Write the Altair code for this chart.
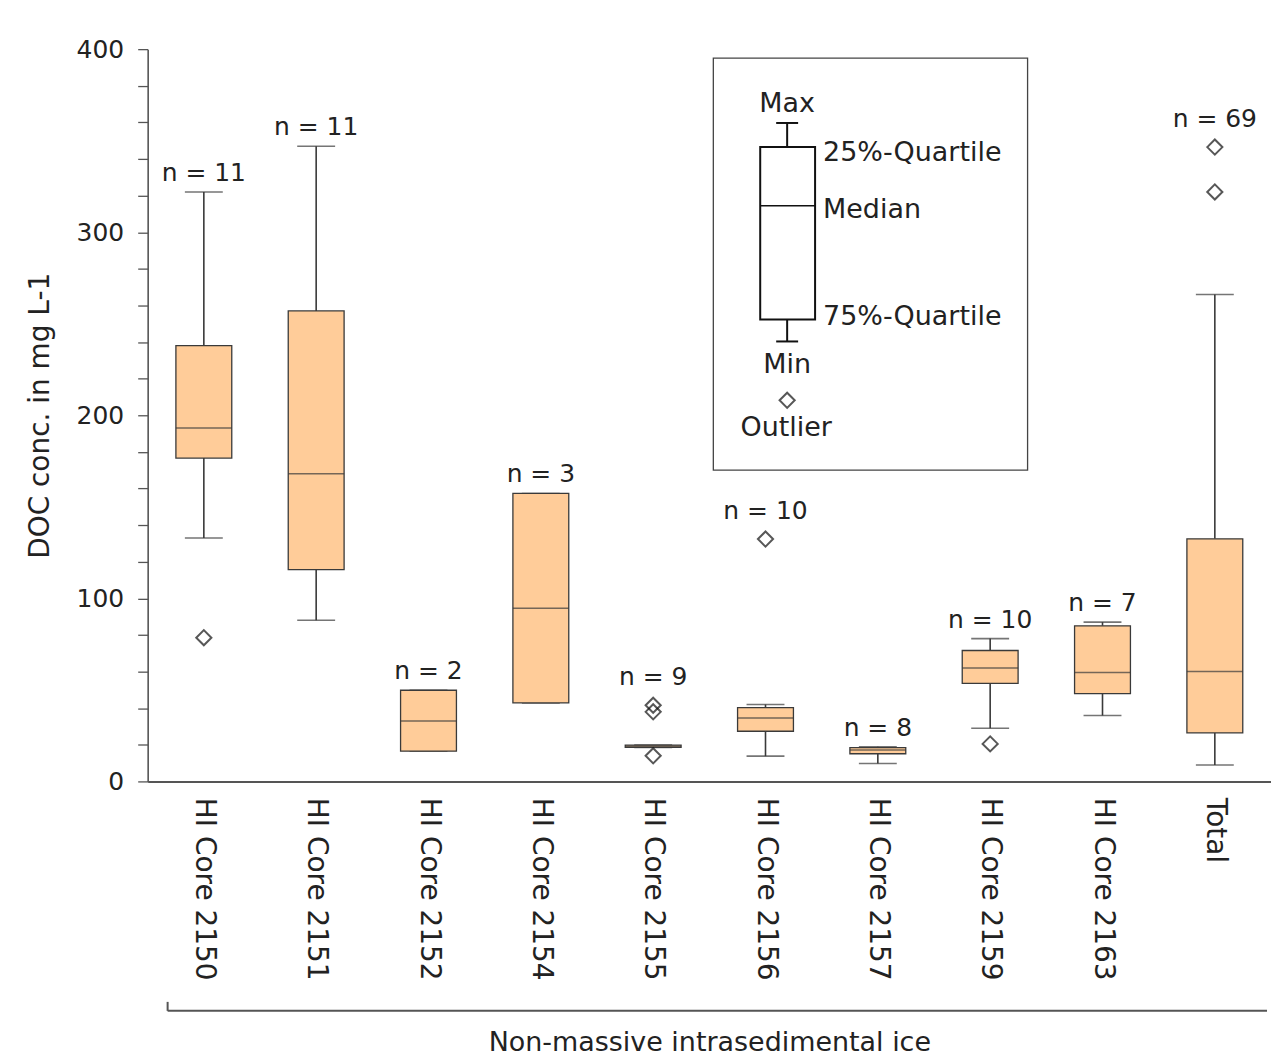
import altair as alt
import pandas as pd

FONT = "DejaVu Sans"

categories = ["HI Core 2150", "HI Core 2151", "HI Core 2152", "HI Core 2154", "HI Core 2155",
              "HI Core 2156", "HI Core 2157", "HI Core 2159", "HI Core 2163", "Total"]
mins = [133, 88, 16.5, 42.9, 18.6, 13.8, 9.8, 29, 36, 9]
q1s = [176.6, 115.7, 16.5, 42.9, 18.6, 27.4, 15.1, 53.5, 48, 26.5]
medians = [193, 168, 33, 94.6, 19.2, 34.7, 17.2, 62, 59.5, 60]
q3s = [238, 257, 49.8, 157.3, 19.8, 40.3, 18.4, 71.5, 85, 132.5]
maxs = [322, 347, 49.8, 157.3, 19.8, 42, 18.9, 78, 87, 266]
ns = [11, 11, 2, 3, 9, 10, 8, 10, 7, 69]

outlier_cats = ["HI Core 2150", "HI Core 2155", "HI Core 2155", "HI Core 2155",
                "HI Core 2156", "HI Core 2159", "Total", "Total"]
outlier_vals = [78.5, 41.6, 38, 14, 132.4, 20.5, 346.5, 322]

# build tables
box = pd.DataFrame({"cat": categories, "min": mins, "q1": q1s, "med": medians,
                    "q3": q3s, "max": maxs, "n": ns})
out = pd.DataFrame({"cat": outlier_cats, "val": outlier_vals})
top_out = out.groupby("cat")["val"].max()
box["top"] = [max(m, top_out.get(c, -1)) for c, m in zip(box["cat"], box["max"])]
box["has_out"] = [top_out.get(c, -1) > m for c, m in zip(box["cat"], box["max"])]
box["label"] = ["n = %d" % v for v in box["n"]]

W, H = 1126, 734
BOXW, CAPW = 56, 38
FILL = "#FFCC99"
LINE = "#3a3a3a"

xenc = alt.X("cat:N", sort=categories,
             scale=alt.Scale(paddingInner=0, paddingOuter=0),
             axis=alt.Axis(title="Non-massive intrasedimental ice", labelAngle=90,
                           labelFont=FONT, labelFontSize=28, labelColor="#222",
                           labelPadding=16, labelLimit=400, ticks=False,
                           domainColor="#555", domainWidth=2, titleFont=FONT,
                           titleFontSize=27, titleFontWeight="normal",
                           titleColor="#222", titlePadding=50))
yscale = alt.Scale(domain=[0, 400], nice=False, zero=True)
yaxis = alt.Axis(title="DOC conc. in mg L-1", values=list(range(0, 401, 20)),
                 labelExpr="datum.value % 100 == 0 ? datum.label : ''",
                 labelFont=FONT, labelFontSize=25, labelColor="#222",
                 labelPadding=14, tickSize=10, tickColor="#555", tickWidth=1.3,
                 domainColor="#555", domainWidth=1.6, grid=False,
                 titleFont=FONT, titleFontSize=28, titleFontWeight="normal",
                 titleColor="#222", titlePadding=22)

base = alt.Chart(box)

whisk_lo = base.mark_rule(color=LINE, strokeWidth=1.6).encode(
    x=xenc, y=alt.Y("min:Q", scale=yscale, axis=yaxis), y2="q1:Q")
whisk_hi = base.mark_rule(color=LINE, strokeWidth=1.6).encode(
    x=xenc, y=alt.Y("q3:Q", scale=yscale, axis=yaxis), y2="max:Q")
cap_lo = base.mark_tick(color=LINE, size=CAPW, thickness=1.6).encode(
    x=xenc, y=alt.Y("min:Q", scale=yscale, axis=yaxis))
cap_hi = base.mark_tick(color=LINE, size=CAPW, thickness=1.6).encode(
    x=xenc, y=alt.Y("max:Q", scale=yscale, axis=yaxis))
bars = base.mark_bar(size=BOXW, fill=FILL, stroke=LINE, strokeWidth=1.3).encode(
    x=xenc, y=alt.Y("q1:Q", scale=yscale, axis=yaxis), y2="q3:Q")
med = base.mark_tick(color=LINE, size=BOXW, thickness=1.5).encode(
    x=xenc, y=alt.Y("med:Q", scale=yscale, axis=yaxis))
outs = alt.Chart(out).mark_point(shape="diamond", filled=False, color="#111",
                                 size=230, strokeWidth=2).encode(
    x=xenc, y=alt.Y("val:Q", scale=yscale, axis=yaxis))
lab_w = base.transform_filter("!datum.has_out").mark_text(
    font=FONT, fontSize=25, color="#222", baseline="middle", dy=-19).encode(
    x=xenc, y=alt.Y("top:Q", scale=yscale, axis=yaxis), text="label:N")
lab_o = base.transform_filter("datum.has_out").mark_text(
    font=FONT, fontSize=25, color="#222", baseline="middle", dy=-28).encode(
    x=xenc, y=alt.Y("top:Q", scale=yscale, axis=yaxis), text="label:N")

# explanatory key (annotation drawn in pixel space)
one = pd.DataFrame({"k": [0]})
key = alt.Chart(one)
k_frame = key.mark_rect(fill="white", stroke="#444", strokeWidth=1.3).encode(
    x=alt.value(567), x2=alt.value(882), y=alt.value(9), y2=alt.value(422))
k_wh1 = key.mark_rule(color="#111", strokeWidth=2).encode(
    x=alt.value(641), y=alt.value(74), y2=alt.value(98))
k_wh2 = key.mark_rule(color="#111", strokeWidth=2).encode(
    x=alt.value(641), y=alt.value(271), y2=alt.value(293))
k_cap1 = key.mark_rule(color="#111", strokeWidth=2).encode(
    x=alt.value(630), x2=alt.value(652), y=alt.value(74))
k_cap2 = key.mark_rule(color="#111", strokeWidth=2).encode(
    x=alt.value(630), x2=alt.value(652), y=alt.value(293))
k_box = key.mark_rect(fill="white", stroke="#111", strokeWidth=2).encode(
    x=alt.value(614), x2=alt.value(669), y=alt.value(98), y2=alt.value(271))
k_med = key.mark_rule(color="#111", strokeWidth=1.5).encode(
    x=alt.value(614), x2=alt.value(669), y=alt.value(157))
k_dia = key.mark_point(shape="diamond", filled=False, color="#111", size=230,
                       strokeWidth=2).encode(x=alt.value(641), y=alt.value(352))

def ktext(t, x, y, align):
    return key.mark_text(text=t, font=FONT, fontSize=27, color="#222",
                         align=align, baseline="middle").encode(
        x=alt.value(x), y=alt.value(y))

k_txt = [ktext("Max", 641, 55, "center"), ktext("25%-Quartile", 677, 104, "left"),
         ktext("Median", 677, 161, "left"), ktext("75%-Quartile", 677, 269, "left"),
         ktext("Min", 641, 317, "center"), ktext("Outlier", 640, 380, "center")]

# group bracket below the category labels
br_h = key.mark_rule(color="#555", strokeWidth=2).encode(
    x=alt.value(20), x2=alt.value(1122), y=alt.value(964))
br_v = key.mark_rule(color="#555", strokeWidth=2).encode(
    x=alt.value(20), y=alt.value(955), y2=alt.value(964))

chart = alt.layer(
    whisk_lo, whisk_hi, cap_lo, cap_hi, bars, med, outs, lab_w, lab_o,
    k_frame, k_wh1, k_wh2, k_cap1, k_cap2, k_box, k_med, k_dia, *k_txt,
    br_h, br_v,
).properties(
    width=W, height=H,
    padding={"left": 18, "top": 28, "right": 0, "bottom": 0},
).configure(background="white").configure_view(strokeWidth=0)

chart.save("out.html", embed_options={"renderer": "svg", "actions": False})
